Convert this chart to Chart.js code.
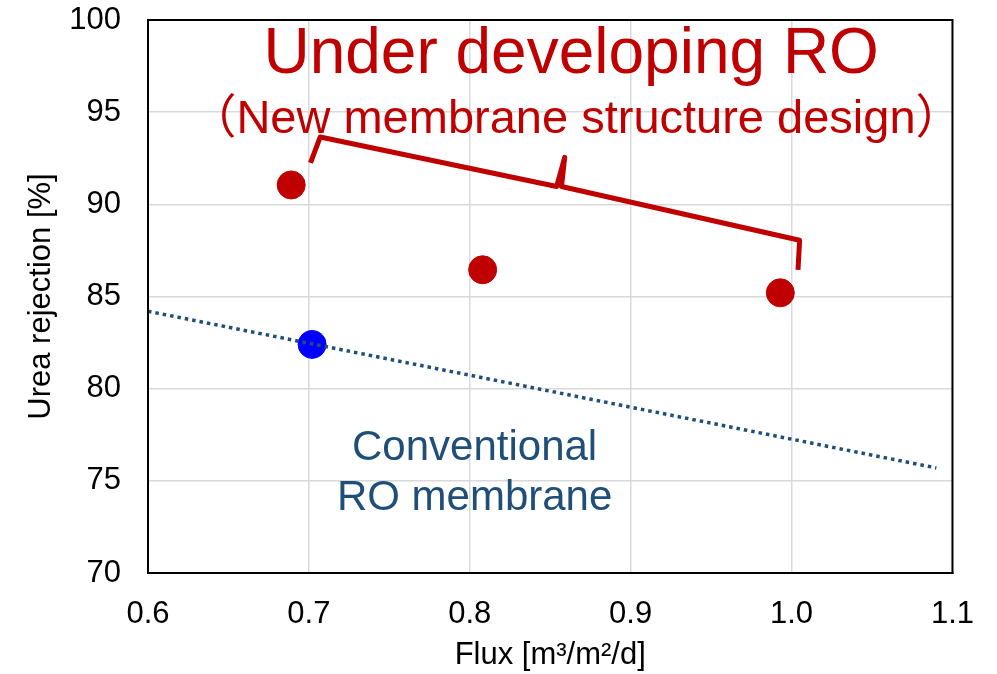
<!DOCTYPE html>
<html>
<head>
<meta charset="utf-8">
<script src="https://cdn.jsdelivr.net/npm/chart.js@4.4.1/dist/chart.umd.min.js"></script>
<style>
  html, body { margin: 0; padding: 0; background: #fff; }
  #wrap { width: 997px; height: 674px; }
</style>
</head>
<body>
<div id="wrap"><canvas id="urea"></canvas></div>
<script>
// values
const newFlux = [0.689, 0.808, 0.993];
const newRejection = [91.05, 86.45, 85.2];
const convFlux = [0.702];
const convRejection = [82.4];
const trendFlux = [0.6, 1.09];
const trendRejection = [84.2, 75.7];
// curly bracket over the new membranes (data units)
const braceFlux = [0.701, 0.707, 0.854, 0.859, 0.857, 1.005, 1.004];
const braceRejection = [92.25, 93.65, 90.97, 92.55, 90.97, 88.05, 86.45];
const xTicks = [0.6, 0.7, 0.8, 0.9, 1.0, 1.1];
const yTicks = [70, 75, 80, 85, 90, 95, 100];

const FONT = "'Liberation Sans', Arial, 'Noto Sans CJK JP', sans-serif";
const RED = '#C00000';
const NAVY = '#1F4E79';

const toXY = (xs, ys) => xs.map((x, i) => ({ x: x, y: ys[i] }));

// labels on the plot, anchored in data units
const notes = [
    { text: 'Under developing RO', x: 0.863, y: 97.12, size: 64, color: RED },
    { text: '（New membrane structure design）', x: 0.866, y: 93.87, size: 47, color: RED },
    { text: 'Conventional', x: 0.803, y: 76.13, size: 42, color: NAVY },
    { text: 'RO membrane', x: 0.803, y: 73.41, size: 42, color: NAVY }
];

const framePlugin = {
    id: 'frame',
    afterDatasetsDraw(chart) {
        const { ctx, chartArea: a, scales } = chart;
        ctx.save();
        ctx.strokeStyle = '#000';
        ctx.lineWidth = 2;
        ctx.strokeRect(a.left, a.top, a.right - a.left, a.bottom - a.top);
        ctx.textAlign = 'center';
        ctx.textBaseline = 'alphabetic';
        notes.forEach(n => {
            ctx.font = n.size + 'px ' + FONT;
            ctx.fillStyle = n.color;
            ctx.fillText(n.text, scales.x.getPixelForValue(n.x), scales.y.getPixelForValue(n.y));
        });
        ctx.restore();
    }
};

new Chart(document.getElementById('urea'), {
    type: 'scatter',
    data: {
        datasets: [
            {
                type: 'line',
                label: 'trend',
                data: toXY(trendFlux, trendRejection),
                borderColor: NAVY,
                borderWidth: 3.5,
                borderDash: [3.5, 4],
                pointRadius: 0,
                fill: false,
                order: 0
            },
            {
                label: 'New',
                data: toXY(newFlux, newRejection),
                backgroundColor: RED,
                borderColor: RED,
                pointRadius: 14,
                order: 1
            },
            {
                label: 'Conventional',
                data: toXY(convFlux, convRejection),
                backgroundColor: '#0000FF',
                borderColor: '#0000FF',
                pointRadius: 14,
                order: 2
            },
            {
                type: 'line',
                label: 'brace',
                data: toXY(braceFlux, braceRejection),
                borderColor: RED,
                borderWidth: 5,
                borderJoinStyle: 'round',
                pointRadius: 0,
                fill: false,
                order: 4
            }
        ]
    },
    options: {
        responsive: true,
        maintainAspectRatio: false,
        animation: false,
        layout: { padding: { top: 20, right: 43, left: 0, bottom: 0 } },
        plugins: { legend: { display: false }, tooltip: { enabled: false } },
        scales: {
            x: {
                type: 'linear',
                min: 0.6,
                max: 1.1,
                afterBuildTicks: s => { s.ticks = xTicks.map(v => ({ value: v })); },
                afterFit: s => { s.height = 101; },
                ticks: {
                    color: '#000',
                    padding: 23,
                    maxRotation: 0,
                    font: { family: FONT, size: 31 },
                    callback: v => Number(v).toFixed(1)
                },
                grid: { color: '#D9D9D9', lineWidth: 1.5, drawTicks: false },
                border: { color: '#000', width: 2 },
                title: {
                    display: true,
                    text: 'Flux [m³/m²/d]',
                    color: '#000',
                    padding: { top: 0, bottom: 0 },
                    font: { family: FONT, size: 31 }
                }
            },
            y: {
                min: 70,
                max: 100,
                afterBuildTicks: s => { s.ticks = yTicks.map(v => ({ value: v })); },
                afterFit: s => { s.width = 148; s.paddingTop = 0; s.paddingBottom = 0; },
                ticks: {
                    color: '#000',
                    padding: 27,
                    font: { family: FONT, size: 31 }
                },
                grid: { color: '#D9D9D9', lineWidth: 1.5, drawTicks: false },
                border: { color: '#000', width: 2 },
                title: {
                    display: true,
                    text: 'Urea rejection [%]',
                    color: '#000',
                    padding: { top: 23, bottom: 0 },
                    font: { family: FONT, size: 31 }
                }
            }
        }
    },
    plugins: [framePlugin]
});
</script>
</body>
</html>
